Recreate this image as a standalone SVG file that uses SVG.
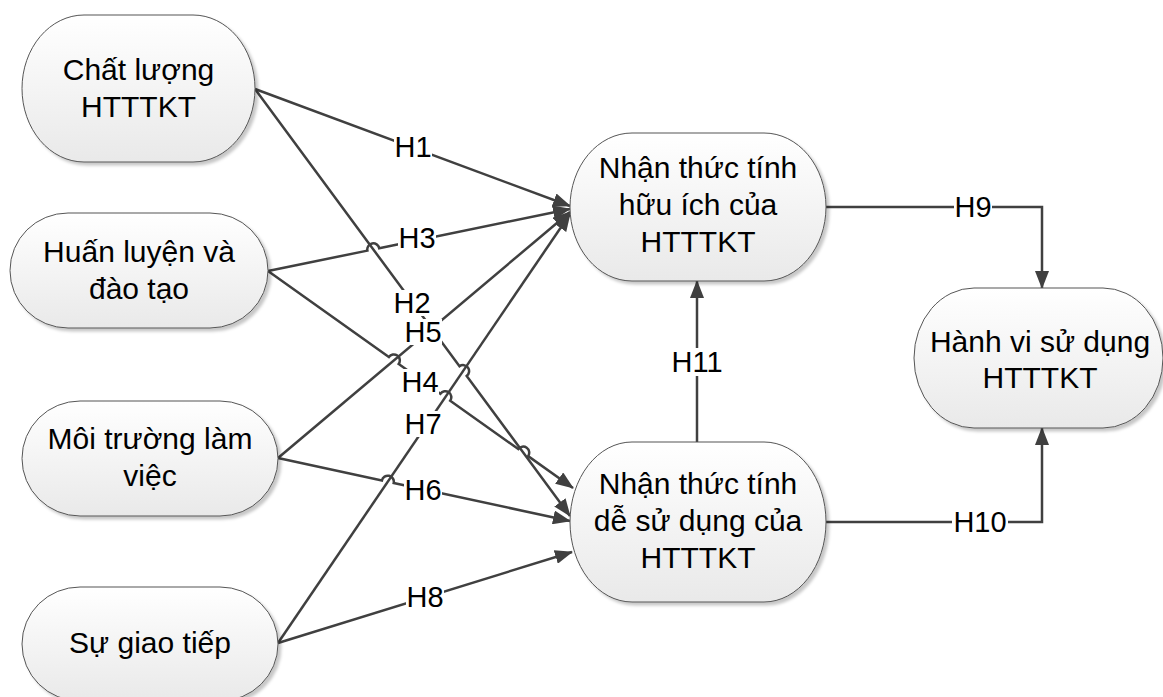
<svg xmlns="http://www.w3.org/2000/svg" width="1163" height="697" viewBox="0 0 1163 697">
  <defs>
    <linearGradient id="nodeFill" x1="0" y1="0" x2="0" y2="1">
      <stop offset="0" stop-color="#ffffff"/>
      <stop offset="1" stop-color="#e9e9e9"/>
    </linearGradient>
    <filter id="shadow" x="-10%" y="-10%" width="130%" height="130%">
      <feGaussianBlur in="SourceAlpha" stdDeviation="1.5"/>
      <feOffset dx="3" dy="3" result="off"/>
      <feFlood flood-color="#000" flood-opacity="0.22"/>
      <feComposite in2="off" operator="in"/>
      <feMerge>
        <feMergeNode/>
        <feMergeNode in="SourceGraphic"/>
      </feMerge>
    </filter>
    <marker id="arrow" markerWidth="18" markerHeight="14" refX="17" refY="7" orient="auto" markerUnits="userSpaceOnUse">
      <path d="M0,0 L18,7 L0,14 Z" fill="#404040"/>
    </marker>
    <style>
      .node rect { fill: url(#nodeFill); stroke: #555555; stroke-width: 1; filter: url(#shadow); }
      .node text { font-family: "Liberation Sans", Arial, sans-serif; font-size: 30px; fill: #000; text-anchor: middle; }
      .edge { fill: none; stroke: #404040; stroke-width: 2.5; marker-end: url(#arrow); }
      .lbl rect { fill: #ffffff; stroke: none; }
      .lbl text { font-family: "Liberation Sans", Arial, sans-serif; font-size: 29px; fill: #000; text-anchor: middle; }
    </style>
  </defs>

  <rect width="1163" height="697" fill="#ffffff"/>

  <!-- connectors -->
  <g id="connectors">
    <!-- H1 -->
    <path class="edge" d="M255,89 L570,206"/>
    <!-- H2 (hop over H7) -->
    <path class="edge" d="M255,89 L459.5,366.3 A6,6 0 0 1 466.7,375.9 L570,516"/>
    <!-- H3 (hop over H2) -->
    <path class="edge" d="M268,271 L367.4,250.6 A6,6 0 0 1 379.2,248.2 L570,209"/>
    <!-- H4 (hops over H5, H7, H2) -->
    <path class="edge" d="M268,271 L388.9,357 A6,6 0 0 1 398.7,364 L440.4,393.7 A6,6 0 0 1 450.2,400.7 L518.3,449.1 A6,6 0 0 1 528.1,456.1 L573,488"/>
    <!-- H5 -->
    <path class="edge" d="M278,458 L570,212"/>
    <!-- H6 (hop over H7) -->
    <path class="edge" d="M278,458 L381.9,480.4 A6,6 0 0 1 393.7,483 L570,521"/>
    <!-- H7 -->
    <path class="edge" d="M278,643 L570,214"/>
    <!-- H8 -->
    <path class="edge" d="M278,643 L572,552"/>
    <!-- H9 -->
    <path class="edge" d="M826,207 L1042,207 L1042,288"/>
    <!-- H10 -->
    <path class="edge" d="M826,522 L1042,522 L1042,428"/>
    <!-- H11 -->
    <path class="edge" d="M697,442 L697,281"/>

    <!-- connector labels -->
    <g class="lbl">
      <rect x="394" y="134" width="38" height="26"/><text x="413" y="157">H1</text>
      <rect x="393" y="290" width="38" height="26"/><text x="412" y="313">H2</text>
      <rect x="398" y="225" width="38" height="26"/><text x="417" y="248">H3</text>
      <rect x="401" y="369" width="38" height="26"/><text x="420" y="392">H4</text>
      <rect x="404" y="319" width="38" height="26"/><text x="423" y="342">H5</text>
      <rect x="404" y="477" width="38" height="26"/><text x="423" y="500">H6</text>
      <rect x="404" y="411" width="38" height="26"/><text x="423" y="434">H7</text>
      <rect x="406" y="584" width="38" height="26"/><text x="425" y="607">H8</text>
      <rect x="954" y="194" width="38" height="26"/><text x="973" y="217">H9</text>
      <rect x="952" y="509" width="56" height="26"/><text x="980" y="532">H10</text>
      <rect x="669" y="348" width="56" height="28"/><text x="697" y="372">H11</text>
    </g>
  </g>

  <!-- nodes -->
  <g id="chat-luong" class="node">
    <rect x="22" y="15" width="233" height="147" rx="62" ry="73.5"/>
    <text x="138.5" y="80">Chất lượng</text>
    <text x="138.5" y="117">HTTTKT</text>
  </g>
  <g id="huan-luyen" class="node">
    <rect x="10" y="213" width="258" height="115" rx="58" ry="57.5"/>
    <text x="139" y="262">Huấn luyện và</text>
    <text x="139" y="299">đào tạo</text>
  </g>
  <g id="moi-truong" class="node">
    <rect x="22" y="401" width="256" height="115" rx="58" ry="57.5"/>
    <text x="150" y="449">Môi trường làm</text>
    <text x="150" y="486">việc</text>
  </g>
  <g id="giao-tiep" class="node">
    <rect x="22" y="587" width="256" height="114" rx="58" ry="57"/>
    <text x="150" y="653">Sự giao tiếp</text>
  </g>
  <g id="huu-ich" class="node">
    <rect x="570" y="133" width="256" height="148" rx="62" ry="74"/>
    <text x="698" y="178">Nhận thức tính</text>
    <text x="698" y="215">hữu ích của</text>
    <text x="698" y="252">HTTTKT</text>
  </g>
  <g id="de-su-dung" class="node">
    <rect x="570" y="442" width="256" height="160" rx="62" ry="80"/>
    <text x="698" y="494">Nhận thức tính</text>
    <text x="698" y="531">dễ sử dụng của</text>
    <text x="698" y="568">HTTTKT</text>
  </g>
  <g id="hanh-vi" class="node">
    <rect x="914" y="288" width="249" height="140" rx="60" ry="70"/>
    <text x="1040" y="352">Hành vi sử dụng</text>
    <text x="1040" y="388">HTTTKT</text>
  </g>
</svg>
